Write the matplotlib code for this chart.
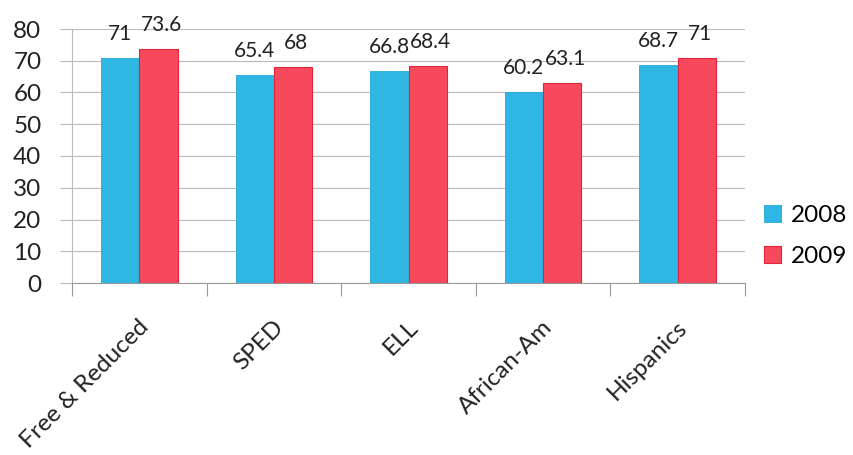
import matplotlib
matplotlib.use("Agg")
import matplotlib.pyplot as plt
import numpy as np

categories = ["Free & Reduced", "SPED", "ELL", "African-Am", "Hispanics"]
series_names = ["2008", "2009"]
values_2008 = [71, 65.4, 66.8, 60.2, 68.7]
values_2009 = [73.6, 68, 68.4, 63.1, 71]
label_2008 = ["71", "65.4", "66.8", "60.2", "68.7"]
label_2009 = ["73.6", "68", "68.4", "63.1", "71"]
yticks = [0, 10, 20, 30, 40, 50, 60, 70, 80]

plt.rcParams['font.family'] = ['Lato', 'DejaVu Sans']

fig = plt.figure(figsize=(8.54, 4.55), dpi=100)
ax = fig.add_axes([72/854, 1-283/455, (745-72)/854, (283-29)/455])

x = np.arange(len(categories))
w = 0.285
blue = "#2FB6E3"
red = "#F64A5C"
b1 = ax.bar(x - w/2, values_2008, w, color=blue, edgecolor="#22A8D8", linewidth=0.6, label=series_names[0], zorder=3)
b2 = ax.bar(x + w/2, values_2009, w, color=red, edgecolor="#E3233C", linewidth=0.8, label=series_names[1], zorder=3)

for rect, lab in zip(b1, label_2008):
    ax.annotate(lab, (rect.get_x() + rect.get_width()/2, rect.get_height()),
                xytext=(0, 10), textcoords="offset points", ha="center", va="bottom",
                fontsize=15, color="#222222")
for rect, lab in zip(b2, label_2009):
    ax.annotate(lab, (rect.get_x() + rect.get_width()/2, rect.get_height()),
                xytext=(2, 10), textcoords="offset points", ha="center", va="bottom",
                fontsize=15, color="#222222")

ax.set_xlim(-0.5, len(categories) - 0.5)
ax.set_ylim(0, 80)
ax.set_yticks(yticks)
ax.set_yticklabels([str(t) for t in yticks], fontsize=17.5, color="#222222")
ax.yaxis.grid(True, color="#BBBBBB", linewidth=0.8, zorder=0)
ax.set_axisbelow(True)

# x ticks at category boundaries
ax.set_xticks(np.arange(len(categories) + 1) - 0.5)
ax.set_xticklabels([])
ax.tick_params(axis="x", length=9, color="#999999", width=0.8)
ax.tick_params(axis="y", length=9, color="#BBBBBB", width=0.8, pad=13)

for xi, cat in zip(x, categories):
    ax.annotate(cat, (xi, 0), xycoords=("data", "data"), xytext=(-1, -24),
                textcoords="offset points", rotation=45, ha="right", va="top",
                rotation_mode="anchor", fontsize=17.5, color="#222222")

for s in ["top", "right"]:
    ax.spines[s].set_visible(False)
ax.spines["left"].set_color("#BBBBBB")
ax.spines["bottom"].set_color("#999999")
ax.spines["left"].set_linewidth(0.8)
ax.spines["bottom"].set_linewidth(0.8)

leg = fig.legend(handles=[b1, b2], labels=series_names, loc="center left",
                 bbox_to_anchor=(764/854, 1-236/455), frameon=False,
                 fontsize=17.5, handlelength=0.7, handleheight=0.7, labelspacing=0.8,
                 handletextpad=0.4, borderpad=0, borderaxespad=0)

fig.savefig("out.png", dpi=100)
